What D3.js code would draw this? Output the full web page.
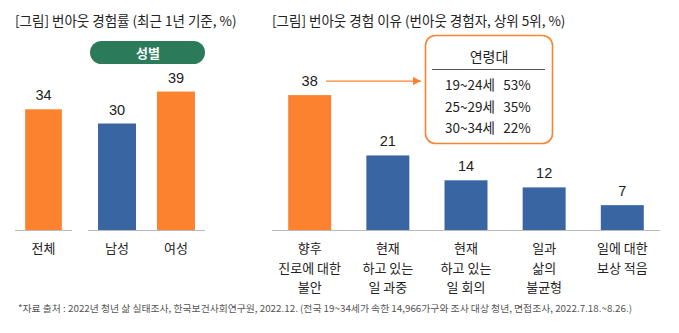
<!DOCTYPE html>
<html>
<head>
<meta charset="utf-8">
<script src="https://cdn.jsdelivr.net/npm/d3@7"></script>
<style>
  body { margin: 0; background: #fff; }
  svg { display: block; font-family: "Noto Sans CJK KR", "Noto Sans", sans-serif; }
</style>
</head>
<body>
<div id="chart"></div>
<script>
// Burnout experience rate (left) and burnout reasons (right)
const totalCategory = ['전체'];
const genderCategories = ['남성', '여성'];
const rateValues = [34, 30, 39];
const rateColors = ['#fd8230', '#3966a2', '#fd8230'];

const reasonCategories = [
    ['향후', '진로에 대한', '불안'],
    ['현재', '하고 있는', '일 과중'],
    ['현재', '하고 있는', '일 회의'],
    ['일과', '삶의', '불균형'],
    ['일에 대한', '보상 적음']
];
const reasonValues = [38, 21, 14, 12, 7];
const reasonColors = ['#fd8230', '#3966a2', '#3966a2', '#3966a2', '#3966a2'];

const ageGroups = ['19~24세', '25~29세', '30~34세'];
const ageValues = [53, 35, 22];

const width = 679, height = 333;
const baseY = 230;
const orange = '#fd8230';
const numFont = '"Liberation Sans", Arial, sans-serif';

const svg = d3.select('#chart').append('svg')
    .attr('width', width)
    .attr('height', height);

// Shared value scale so both panels use the same bar height per percent
const y = d3.scaleLinear().domain([0, 40]).range([baseY, baseY - 142]);

// ---- Left panel ----
svg.append('text')
    .attr('x', 15).attr('y', 26)
    .attr('font-size', 13.5).attr('fill', '#222')
    .text('[그림] 번아웃 경험률 (최근 1년 기준, %)');

// the total bar and the gender pair each sit on their own baseline segment
const totalRange = [15, 72];
const genderRange = [88, 205];
const xTotal = d3.scaleBand().domain(totalCategory).range(totalRange)
    .paddingInner(0.356).paddingOuter(0.165);
const xGender = d3.scaleBand().domain(genderCategories).range(genderRange)
    .paddingInner(0.356).paddingOuter(0.17);

const leftData = totalCategory.map(c => ({ c, x: xTotal(c), w: xTotal.bandwidth() }))
    .concat(genderCategories.map(c => ({ c, x: xGender(c), w: xGender.bandwidth() })))
    .map((d, i) => Object.assign(d, { v: rateValues[i], color: rateColors[i] }));

// gender pill over the pair
svg.append('rect')
    .attr('x', genderRange[0] + 2).attr('y', 41)
    .attr('width', genderRange[1] - genderRange[0] - 2).attr('height', 23)
    .attr('rx', 11.5).attr('fill', '#2b7b5b');
svg.append('text')
    .attr('x', (genderRange[0] + genderRange[1]) / 2 + 1.5).attr('y', 57.5)
    .attr('text-anchor', 'middle').attr('font-size', 13).attr('font-weight', 'bold')
    .attr('fill', '#fff').text('성별');

// baselines
[totalRange, genderRange].forEach(r => {
    svg.append('line').attr('x1', r[0]).attr('x2', r[1])
        .attr('y1', baseY + 0.5).attr('y2', baseY + 0.5)
        .attr('stroke', '#bbb').attr('stroke-width', 1);
});

const leftG = svg.append('g');
leftG.selectAll('rect')
    .data(leftData)
    .enter().append('rect')
    .attr('x', d => d.x)
    .attr('y', d => y(d.v))
    .attr('width', d => d.w)
    .attr('height', d => baseY - y(d.v))
    .attr('fill', d => d.color);

leftG.selectAll('.val')
    .data(leftData)
    .enter().append('text')
    .attr('class', 'val')
    .attr('x', d => d.x + d.w / 2)
    .attr('y', d => y(d.v) - 9)
    .attr('text-anchor', 'middle').attr('font-size', 14.5).attr('fill', '#222')
    .attr('font-family', numFont)
    .text(d => d.v);

leftG.selectAll('.cat')
    .data(leftData)
    .enter().append('text')
    .attr('class', 'cat')
    .attr('x', d => d.x + d.w / 2)
    .attr('y', 253)
    .attr('text-anchor', 'middle').attr('font-size', 13).attr('fill', '#222')
    .text(d => d.c);

// ---- Right panel ----
svg.append('text')
    .attr('x', 272).attr('y', 26)
    .attr('font-size', 13.5).attr('fill', '#222')
    .text('[그림] 번아웃 경험 이유 (번아웃 경험자, 상위 5위, %)');

const xRight = d3.scaleBand()
    .domain(d3.range(reasonValues.length))
    .range([271, 661])
    .paddingInner(0.45)
    .paddingOuter(0.22);

svg.append('line').attr('x1', 272).attr('x2', 660).attr('y1', baseY + 0.5).attr('y2', baseY + 0.5)
    .attr('stroke', '#bbb').attr('stroke-width', 1);

const rightG = svg.append('g');
rightG.selectAll('rect')
    .data(reasonValues)
    .enter().append('rect')
    .attr('x', (d, i) => xRight(i))
    .attr('y', d => y(d))
    .attr('width', xRight.bandwidth())
    .attr('height', d => baseY - y(d))
    .attr('fill', (d, i) => reasonColors[i]);

rightG.selectAll('.val')
    .data(reasonValues)
    .enter().append('text')
    .attr('class', 'val')
    .attr('x', (d, i) => xRight(i) + xRight.bandwidth() / 2)
    .attr('y', d => y(d) - 9)
    .attr('text-anchor', 'middle').attr('font-size', 14.5).attr('fill', '#222')
    .attr('font-family', numFont)
    .text(d => d);

const catText = rightG.selectAll('.cat')
    .data(reasonCategories)
    .enter().append('text')
    .attr('class', 'cat')
    .attr('text-anchor', 'middle').attr('font-size', 13).attr('fill', '#222');
catText.selectAll('tspan')
    .data((d, i) => d.map(line => ({ line, i })))
    .enter().append('tspan')
    .attr('x', d => xRight(d.i) + xRight.bandwidth() / 2)
    .attr('y', (d, j) => 253 + j * 19.5)
    .text(d => d.line);

// arrow from the first bar's label to the age breakdown box
const defs = svg.append('defs');
defs.append('marker')
    .attr('id', 'arrowhead')
    .attr('viewBox', '0 0 10 10')
    .attr('refX', 10).attr('refY', 5)
    .attr('markerWidth', 8).attr('markerHeight', 8)
    .attr('markerUnits', 'userSpaceOnUse')
    .attr('orient', 'auto')
    .append('path').attr('d', 'M0,0 L10,5 L0,10 Z').attr('fill', orange);

const arrowY = y(reasonValues[0]) - 14;
svg.append('line')
    .attr('x1', 326).attr('x2', 421)
    .attr('y1', arrowY).attr('y2', arrowY)
    .attr('stroke', orange).attr('stroke-width', 1.3)
    .attr('marker-end', 'url(#arrowhead)');

// age breakdown box
svg.append('rect')
    .attr('x', 425.5).attr('y', 35.5).attr('width', 127).attr('height', 108)
    .attr('rx', 10).attr('fill', '#fff')
    .attr('stroke', orange).attr('stroke-width', 1.6);
svg.append('text')
    .attr('x', 489).attr('y', 62)
    .attr('text-anchor', 'middle').attr('font-size', 14).attr('fill', '#222')
    .text('연령대');
svg.append('line')
    .attr('x1', 432).attr('x2', 545).attr('y1', 69.5).attr('y2', 69.5)
    .attr('stroke', '#555').attr('stroke-width', 1);

const rowY = d3.scalePoint().domain(ageGroups).range([90, 133]);
svg.selectAll('.age')
    .data(ageGroups)
    .enter().append('text')
    .attr('class', 'age')
    .attr('x', 470).attr('y', d => rowY(d))
    .attr('text-anchor', 'middle').attr('font-size', 13.5).attr('fill', '#222')
    .text(d => d);
svg.selectAll('.agev')
    .data(ageGroups)
    .enter().append('text')
    .attr('class', 'agev')
    .attr('x', 517).attr('y', d => rowY(d))
    .attr('text-anchor', 'middle').attr('font-size', 13.5).attr('fill', '#222')
    .text((d, i) => ageValues[i] + '%');

// source note
svg.append('text')
    .attr('x', 18).attr('y', 312)
    .attr('font-size', 9.5).attr('fill', '#555')
    .attr('textLength', 614).attr('lengthAdjust', 'spacingAndGlyphs')
    .text('*자료 출처 : 2022년 청년 삶 실태조사, 한국보건사회연구원, 2022.12. (전국 19~34세가 속한 14,966가구와 조사 대상 청년, 면접조사, 2022.7.18.~8.26.)');
</script>
</body>
</html>
